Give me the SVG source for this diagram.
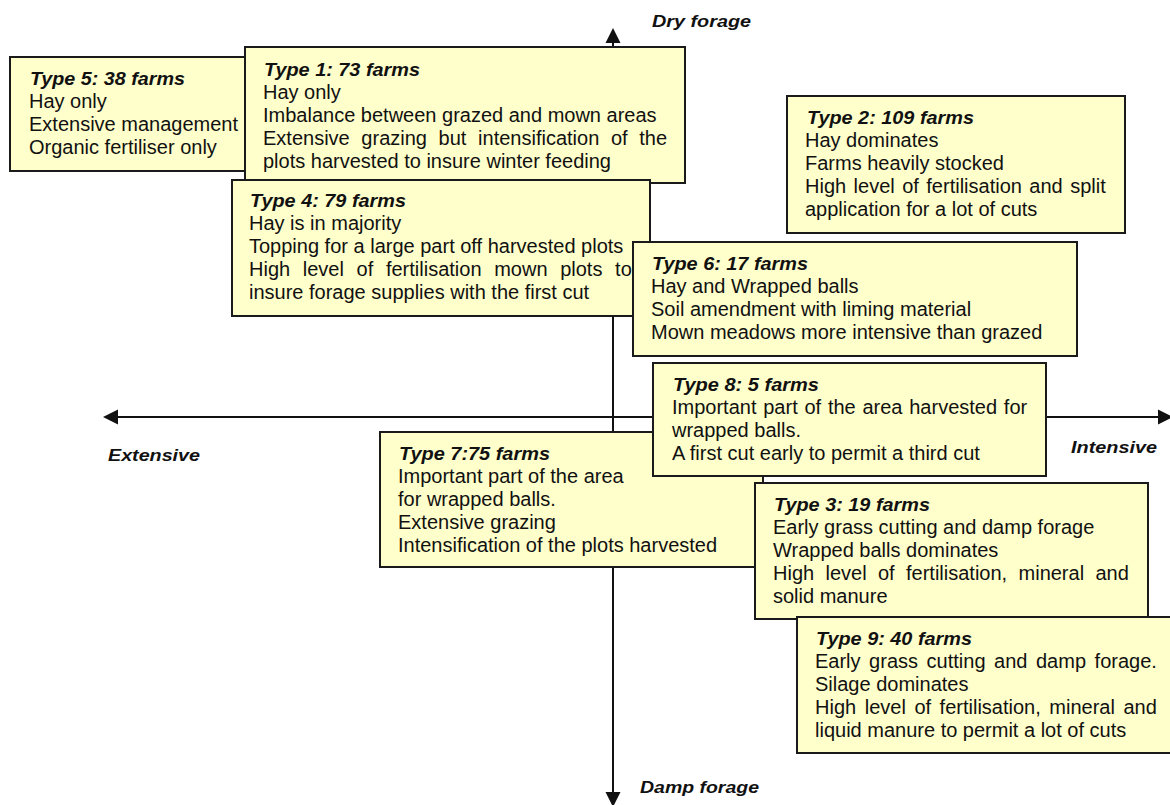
<svg xmlns="http://www.w3.org/2000/svg" width="1170" height="805" viewBox="0 0 1170 805">
<style>
.box{fill:#FFFFCC;stroke:#1a1a1a;stroke-width:2}
.t{font-family:"Liberation Sans",Arial,sans-serif;font-size:20px;fill:#111}
.h{font-family:"Liberation Sans",Arial,sans-serif;font-weight:bold;font-style:italic;font-size:18.5px;fill:#111}
.lbl{font-family:"Liberation Sans",Arial,sans-serif;font-weight:bold;font-style:italic;font-size:17px;fill:#111}
.ax{stroke:#111;stroke-width:2;fill:none}
.ah{fill:#111}
</style>
<rect width="1170" height="805" fill="#fff"/>
<g id="axes">
<line class="ax" x1="613" y1="42" x2="613" y2="793"/>
<line class="ax" x1="117" y1="417" x2="1159" y2="417"/>
<polygon class="ah" points="613,28 605.5,43 620.5,43"/>
<polygon class="ah" points="613,807 605.5,792 620.5,792"/>
<polygon class="ah" points="103,417 118,409.5 118,424.5"/>
<polygon class="ah" points="1173,417 1158,409.5 1158,424.5"/>
<text class="lbl" x="652" y="27" textLength="99" lengthAdjust="spacingAndGlyphs">Dry forage</text>
<text class="lbl" x="640" y="793" textLength="119" lengthAdjust="spacingAndGlyphs">Damp forage</text>
<text class="lbl" x="108" y="461" textLength="92" lengthAdjust="spacingAndGlyphs">Extensive</text>
<text class="lbl" x="1071" y="453" textLength="86" lengthAdjust="spacingAndGlyphs">Intensive</text>
</g>
<g id="type5">
<rect class="box" x="10" y="57" width="290" height="114"/>
<text class="h" x="30" y="85" textLength="155" lengthAdjust="spacingAndGlyphs">Type 5: 38 farms</text>
<text class="t" x="29" y="108"><tspan>Hay only</tspan><tspan x="29" dy="23">Extensive management</tspan><tspan x="29" dy="23">Organic fertiliser only</tspan></text>
</g>
<g id="type1">
<rect class="box" x="245" y="47" width="440" height="136"/>
<text class="h" x="264" y="76" textLength="156" lengthAdjust="spacingAndGlyphs">Type 1: 73 farms</text>
<text class="t" x="263" y="99"><tspan>Hay only</tspan><tspan x="263" dy="23">Imbalance between grazed and mown areas</tspan><tspan x="263" dy="23" style="word-spacing:6.1px">Extensive grazing but intensification of the</tspan><tspan x="263" dy="23">plots harvested to insure winter feeding</tspan></text>
</g>
<g id="type2">
<rect class="box" x="787" y="96" width="338" height="137"/>
<text class="h" x="807" y="124" textLength="167" lengthAdjust="spacingAndGlyphs">Type 2: 109 farms</text>
<text class="t" x="805" y="147"><tspan>Hay dominates</tspan><tspan x="805" dy="23">Farms heavily stocked</tspan><tspan x="805" dy="23" style="word-spacing:1.9px">High level of fertilisation and split</tspan><tspan x="805" dy="23">application for a lot of cuts</tspan></text>
</g>
<g id="type4">
<rect class="box" x="232" y="180" width="418" height="136"/>
<text class="h" x="250" y="207" textLength="156" lengthAdjust="spacingAndGlyphs">Type 4: 79 farms</text>
<text class="t" x="249" y="230"><tspan>Hay is in majority</tspan><tspan x="249" dy="23">Topping for a large part off harvested plots</tspan><tspan x="249" dy="23" style="word-spacing:7.1px">High level of fertilisation mown plots to</tspan><tspan x="249" dy="23">insure forage supplies with the first cut</tspan></text>
</g>
<g id="type6">
<rect class="box" x="633" y="242" width="444" height="114"/>
<text class="h" x="652" y="270" textLength="156" lengthAdjust="spacingAndGlyphs">Type 6: 17 farms</text>
<text class="t" x="651" y="293"><tspan>Hay and Wrapped balls</tspan><tspan x="651" dy="23">Soil amendment with liming material</tspan><tspan x="651" dy="23">Mown meadows more intensive than grazed</tspan></text>
</g>
<g id="type7">
<rect class="box" x="380" y="432" width="383" height="135"/>
<text class="h" x="399" y="459.5" textLength="151" lengthAdjust="spacingAndGlyphs">Type 7:75 farms</text>
<text class="t" x="398" y="482.5"><tspan>Important part of the area</tspan><tspan x="398" dy="23">for wrapped balls.</tspan><tspan x="398" dy="23">Extensive grazing</tspan><tspan x="398" dy="23">Intensification of the plots harvested</tspan></text>
</g>
<g id="type8">
<rect class="box" x="653" y="363" width="393" height="113"/>
<text class="h" x="673" y="391" textLength="146" lengthAdjust="spacingAndGlyphs">Type 8: 5 farms</text>
<text class="t" x="672" y="414"><tspan style="word-spacing:1.2px">Important part of the area harvested for</tspan><tspan x="672" dy="23">wrapped balls.</tspan><tspan x="672" dy="23">A first cut early to permit a third cut</tspan></text>
</g>
<g id="type3">
<rect class="box" x="755" y="483" width="393" height="136"/>
<text class="h" x="774" y="511" textLength="156" lengthAdjust="spacingAndGlyphs">Type 3: 19 farms</text>
<text class="t" x="773" y="534"><tspan>Early grass cutting and damp forage</tspan><tspan x="773" dy="23">Wrapped balls dominates</tspan><tspan x="773" dy="23" style="word-spacing:5.8px">High level of fertilisation, mineral and</tspan><tspan x="773" dy="23">solid manure</tspan></text>
</g>
<g id="type9">
<rect class="box" x="797" y="617" width="380" height="136"/>
<text class="h" x="816" y="645" textLength="156" lengthAdjust="spacingAndGlyphs">Type 9: 40 farms</text>
<text class="t" x="815" y="668"><tspan style="word-spacing:3px">Early grass cutting and damp forage.</tspan><tspan x="815" dy="23">Silage dominates</tspan><tspan x="815" dy="23" style="word-spacing:3px">High level of fertilisation, mineral and</tspan><tspan x="815" dy="23">liquid manure to permit a lot of cuts</tspan></text>
</g>
</svg>
